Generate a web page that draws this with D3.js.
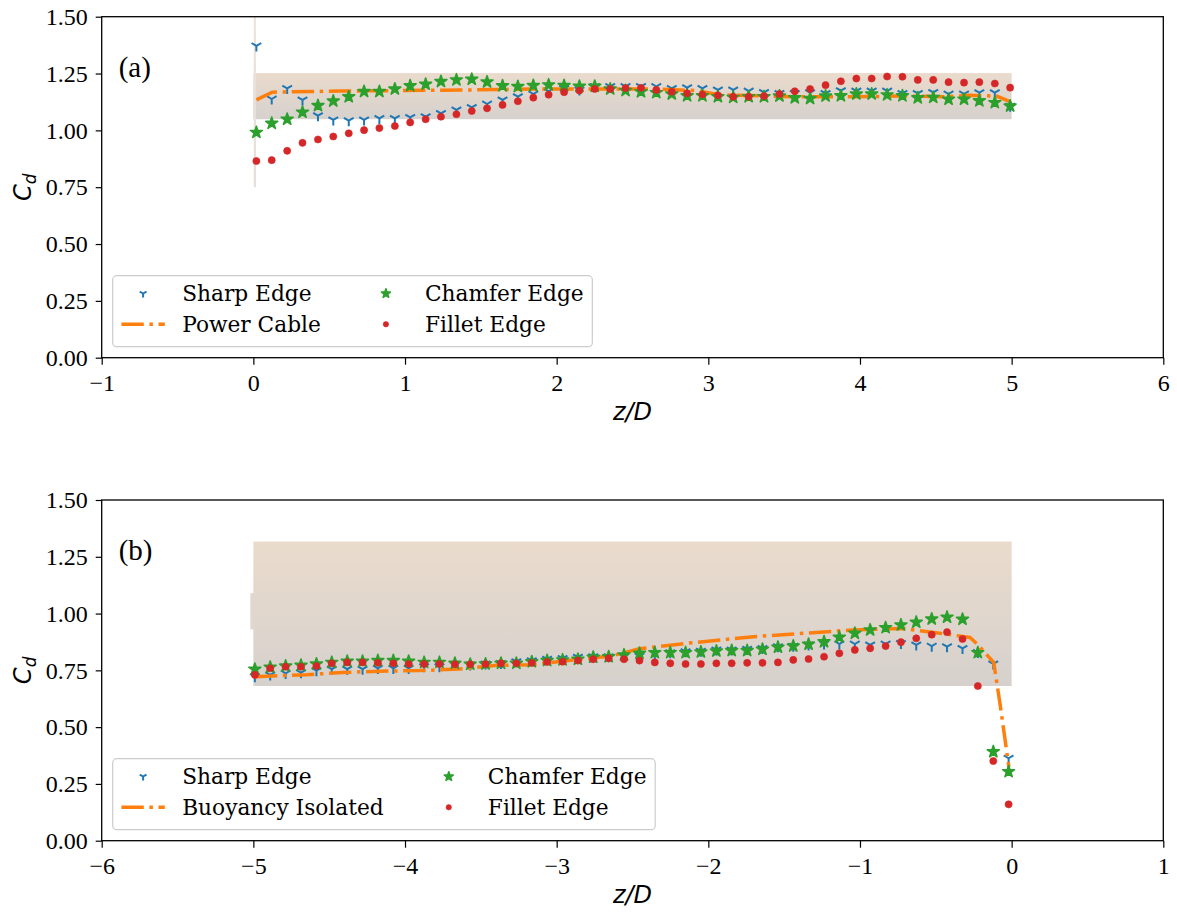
<!DOCTYPE html>
<html>
<head>
<meta charset="utf-8">
<script src="https://cdn.jsdelivr.net/npm/d3@7"></script>
<style>
body { margin: 0; background: #fff; }
</style>
</head>
<body>
<div id="chart"></div>
<script>
// ---- values ----
// panel (a): z/D positions of the sampled sections
var zTop = [0.020, 0.121, 0.223, 0.324, 0.426, 0.527, 0.629, 0.730, 0.831, 0.933,
            1.034, 1.136, 1.237, 1.339, 1.440, 1.541, 1.643, 1.744, 1.846, 1.947,
            2.049, 2.150, 2.251, 2.353, 2.454, 2.556, 2.657, 2.759, 2.860, 2.961,
            3.063, 3.164, 3.266, 3.367, 3.469, 3.570, 3.671, 3.773, 3.874, 3.976,
            4.077, 4.179, 4.280, 4.381, 4.483, 4.584, 4.686, 4.787, 4.889, 4.990];
var sharpTop = [1.372, 1.138, 1.185, 1.134, 1.065, 1.046, 1.043, 1.046, 1.053, 1.053,
                1.057, 1.060, 1.075, 1.090, 1.101, 1.116, 1.134, 1.148, 1.160, 1.172,
                1.185, 1.178, 1.193, 1.193, 1.193, 1.193, 1.193, 1.185, 1.188, 1.185,
                1.178, 1.178, 1.173, 1.167, 1.163, 1.163, 1.166, 1.163, 1.175, 1.173,
                1.173, 1.173, 1.163, 1.163, 1.167, 1.160, 1.160, 1.166, 1.166, 1.107];
var chamferTop = [0.991, 1.031, 1.049, 1.080, 1.109, 1.129, 1.148, 1.171, 1.171, 1.182,
                  1.196, 1.203, 1.215, 1.222, 1.225, 1.213, 1.196, 1.193, 1.197, 1.200,
                  1.197, 1.194, 1.194, 1.182, 1.175, 1.170, 1.166, 1.160, 1.152, 1.152,
                  1.148, 1.145, 1.148, 1.148, 1.151, 1.143, 1.140, 1.151, 1.152, 1.160,
                  1.160, 1.156, 1.152, 1.143, 1.145, 1.137, 1.137, 1.130, 1.122, 1.107];
var filletTop = [0.865, 0.869, 0.910, 0.945, 0.960, 0.973, 0.987, 1.001, 1.010, 1.019,
                 1.035, 1.049, 1.060, 1.071, 1.085, 1.097, 1.112, 1.128, 1.144, 1.157,
                 1.168, 1.175, 1.182, 1.182, 1.186, 1.187, 1.178, 1.170, 1.163, 1.158,
                 1.154, 1.148, 1.148, 1.151, 1.160, 1.172, 1.182, 1.199, 1.216, 1.228,
                 1.228, 1.237, 1.236, 1.222, 1.222, 1.212, 1.210, 1.212, 1.206, 1.188];
var cableZ  = [0.02, 0.125, 0.571, 1.143, 1.45, 1.89, 2.455, 2.66, 2.92, 3.08, 3.36, 3.56, 3.96, 4.29, 4.57, 4.72, 4.90, 4.99];
var cableCd = [1.134, 1.168, 1.173, 1.176, 1.178, 1.182, 1.182, 1.182, 1.175, 1.156, 1.152, 1.148, 1.148, 1.151, 1.148, 1.154, 1.151, 1.126];
var bandTopZ = [0, 5];
var bandTopCd = [1.049, 1.252];
var spikeTopZ = [0.003, 0.017];
var spikeTopCd = [0.75, 1.5];

// panel (b)
var zBot = [-4.990, -4.889, -4.787, -4.686, -4.584, -4.483, -4.381, -4.280, -4.179, -4.077,
            -3.976, -3.874, -3.773, -3.671, -3.570, -3.469, -3.367, -3.266, -3.164, -3.063,
            -2.961, -2.860, -2.759, -2.657, -2.556, -2.454, -2.353, -2.251, -2.150, -2.049,
            -1.947, -1.846, -1.744, -1.643, -1.541, -1.440, -1.339, -1.237, -1.136, -1.034,
            -0.933, -0.831, -0.730, -0.629, -0.527, -0.426, -0.324, -0.223, -0.121, -0.020];
var sharpBot = [0.722, 0.730, 0.737, 0.740, 0.749, 0.755, 0.755, 0.755, 0.759, 0.759,
                0.759, 0.766, 0.766, 0.774, 0.774, 0.778, 0.781, 0.788, 0.793, 0.799,
                0.803, 0.808, 0.810, 0.810, 0.810, 0.813, 0.825, 0.828, 0.832, 0.835,
                0.840, 0.840, 0.843, 0.847, 0.854, 0.857, 0.862, 0.866, 0.866, 0.866,
                0.862, 0.866, 0.869, 0.862, 0.857, 0.854, 0.847, 0.829, 0.778, 0.363];
var chamferBot = [0.755, 0.764, 0.769, 0.772, 0.778, 0.785, 0.790, 0.790, 0.793, 0.793,
                  0.790, 0.785, 0.785, 0.781, 0.777, 0.778, 0.781, 0.781, 0.788, 0.793,
                  0.796, 0.799, 0.808, 0.810, 0.818, 0.825, 0.828, 0.828, 0.828, 0.831,
                  0.835, 0.837, 0.837, 0.843, 0.852, 0.857, 0.865, 0.876, 0.896, 0.913,
                  0.928, 0.938, 0.950, 0.962, 0.976, 0.984, 0.975, 0.828, 0.392, 0.304];
var filletBot = [0.730, 0.759, 0.766, 0.766, 0.769, 0.781, 0.785, 0.785, 0.783, 0.781,
                 0.778, 0.778, 0.778, 0.777, 0.777, 0.778, 0.781, 0.781, 0.783, 0.787,
                 0.788, 0.793, 0.799, 0.803, 0.799, 0.793, 0.785, 0.781, 0.778, 0.778,
                 0.781, 0.781, 0.783, 0.783, 0.785, 0.796, 0.800, 0.810, 0.825, 0.840,
                 0.847, 0.857, 0.874, 0.891, 0.907, 0.918, 0.888, 0.681, 0.351, 0.160];
var buoyZ  = [-4.99, -4.648, -4.407, -4.165, -3.901, -3.637, -3.407, -3.165, -2.923, -2.627, -2.455,
              -2.143, -1.703, -1.044, -0.715, -0.473, -0.275, -0.222, -0.118, -0.077, -0.018];
var buoyCd = [0.722, 0.731, 0.741, 0.746, 0.749, 0.756, 0.771, 0.775, 0.793, 0.815, 0.845,
              0.869, 0.898, 0.928, 0.934, 0.913, 0.895, 0.862, 0.784, 0.604, 0.324];
var bandBotZ = [-5, 0];
var bandBotCd = [0.681, 1.317];
var sliverBotZ = [-5.02, -4.995];
var sliverBotCd = [0.93, 1.09];

// ticks
var yTicks = [0, 0.25, 0.5, 0.75, 1.0, 1.25, 1.5];
var xTicksTop = [-1, 0, 1, 2, 3, 4, 5, 6];
var xTicksBot = [-6, -5, -4, -3, -2, -1, 0, 1];

var colors = { sharp: "#1f77b4", line: "#ff7f0e", chamfer: "#2ca02c", fillet: "#d62728" };

function init(){
    var W = 1177, H = 914;
    var left = 101.7, right = 1163.3;
    var legendFs = 21.7;

    var svg = d3.select("#chart").append("svg")
        .attr("width", W).attr("height", H);

    var defs = svg.append("defs");
    var grad = defs.append("linearGradient").attr("id", "band")
        .attr("x1", 0).attr("y1", 0).attr("x2", 0).attr("y2", 1);
    grad.append("stop").attr("offset", "0%").attr("stop-color", "#eadbcc");
    grad.append("stop").attr("offset", "100%").attr("stop-color", "#d6d1cd");
    var grad2 = defs.append("linearGradient").attr("id", "spike")
        .attr("x1", 0).attr("y1", 0).attr("x2", 0).attr("y2", 1);
    grad2.append("stop").attr("offset", "0%").attr("stop-color", "#efe2d8");
    grad2.append("stop").attr("offset", "100%").attr("stop-color", "#e3dedb");

    // marker drawers
    var triDown = function(r){
        var a = 0.866 * r, b = 0.5 * r;
        return "M0,0L0," + r + "M0,0L" + (-a) + "," + (-b) + "M0,0L" + a + "," + (-b);
    };
    var star = d3.symbol().type(d3.symbolStar);
    var circ = d3.symbol().type(d3.symbolCircle);

    function drawSharp(g, pts, k){
        g.selectAll(null).data(pts).enter().append("path")
            .attr("transform", function(d){ return "translate(" + d[0] + "," + d[1] + ")"; })
            .attr("d", triDown(5.6 * k))
            .attr("fill", "none")
            .attr("stroke", colors.sharp)
            .attr("stroke-width", 2);
    }
    function drawChamfer(g, pts, k){
        g.selectAll(null).data(pts).enter().append("path")
            .attr("transform", function(d){ return "translate(" + d[0] + "," + d[1] + ")"; })
            .attr("d", star.size(44 * k * k)())
            .attr("fill", colors.chamfer)
            .attr("stroke", colors.chamfer)
            .attr("stroke-width", 1.6)
            .attr("stroke-linejoin", "round");
    }
    function drawFillet(g, pts, k){
        g.selectAll(null).data(pts).enter().append("path")
            .attr("transform", function(d){ return "translate(" + d[0] + "," + d[1] + ")"; })
            .attr("d", circ.size(40 * k * k)())
            .attr("fill", colors.fillet)
            .attr("stroke", colors.fillet)
            .attr("stroke-width", 0.6);
    }

    var drawPanel = function(o){
        var x = d3.scaleLinear().domain(o.xDomain).range([left, right]);
        var y = d3.scaleLinear().domain([0, 1.5]).range([o.bottom, o.top]);
        var g = svg.append("g");

        // shaded band and thin edges
        o.rects.forEach(function(r){
            g.append("rect")
                .attr("x", x(r.z[0]))
                .attr("width", x(r.z[1]) - x(r.z[0]))
                .attr("y", y(r.cd[1]))
                .attr("height", y(r.cd[0]) - y(r.cd[1]))
                .attr("fill", r.fill);
        });

        var pts = function(zs, cs){ return zs.map(function(z, i){ return [x(z), y(cs[i])]; }); };

        drawSharp(g, pts(o.z, o.sharp), 1);

        var line = d3.line()
            .x(function(d){ return x(d[0]); })
            .y(function(d){ return y(d[1]); });
        g.append("path")
            .datum(o.lineZ.map(function(z, i){ return [z, o.lineCd[i]]; }))
            .attr("d", line)
            .attr("fill", "none")
            .attr("stroke", colors.line)
            .attr("stroke-width", 3.5)
            .attr("stroke-dasharray", "22.4,5.6,3.5,5.6");

        drawChamfer(g, pts(o.z, o.chamfer), 1);
        drawFillet(g, pts(o.z, o.fillet), 1);

        // axes
        var xAxis = d3.axisBottom(x).tickValues(o.xTicks).tickFormat(d3.format("d")).tickSize(7).tickPadding(9);
        var yAxis = d3.axisLeft(y).tickValues(yTicks).tickFormat(d3.format(".2f")).tickSize(6).tickPadding(8);
        var gx = g.append("g").attr("transform", `translate(0,${o.bottom})`).call(xAxis);
        var gy = g.append("g").attr("transform", `translate(${left},0)`).call(yAxis);
        [gx, gy].forEach(function(a){
            a.select(".domain").remove();
            a.attr("font-family", "'Liberation Serif', 'Times New Roman', serif").attr("font-size", 24);
            a.selectAll("line").attr("stroke", "#000").attr("stroke-width", 1.2);
            a.selectAll("text").attr("fill", "#000");
        });

        // frame
        g.append("rect")
            .attr("x", left).attr("y", o.top)
            .attr("width", right - left).attr("height", o.bottom - o.top)
            .attr("fill", "none").attr("stroke", "#000").attr("stroke-width", 1.3);

        // panel tag
        g.append("text")
            .attr("x", left + 17).attr("y", o.top + 60)
            .attr("font-family", "'Liberation Serif', 'Times New Roman', serif")
            .attr("font-size", 29)
            .text(o.tag);

        // axis labels
        g.append("text")
            .attr("x", (left + right) / 2).attr("y", o.bottom + 62)
            .attr("text-anchor", "middle")
            .attr("font-family", "'DejaVu Sans', sans-serif")
            .attr("font-style", "italic")
            .attr("font-size", 24)
            .text("z/D");
        var yl = g.append("text")
            .attr("transform", `translate(31,${(o.top + o.bottom) / 2}) rotate(-90)`)
            .attr("text-anchor", "middle")
            .attr("font-family", "'DejaVu Sans', sans-serif")
            .attr("font-style", "italic")
            .attr("font-size", 24);
        yl.append("tspan").text("C");
        yl.append("tspan").attr("font-size", 17).attr("dy", 5).text("d");

        // legend (2 columns, filled column by column)
        var lg = g.append("g");
        var box = lg.append("rect")
            .attr("x", left + 11).attr("y", o.bottom - 11 - 71)
            .attr("height", 71).attr("rx", 4)
            .attr("fill", "#fff").attr("fill-opacity", 0.8)
            .attr("stroke", "#cccccc").attr("stroke-width", 1.2);
        var pad = 8.7, handleLen = 43.4, textPad = 17.4, colSpace = 43.4;
        var row1 = o.bottom - 11 - 71 + 17.8, row2 = row1 + 30.8;
        var entries = [
            [{ label: "Sharp Edge", kind: "sharp" }, { label: o.lineLabel, kind: "line" }],
            [{ label: "Chamfer Edge", kind: "chamfer" }, { label: "Fillet Edge", kind: "fillet" }]
        ];
        var colX = left + 11 + pad;
        entries.forEach(function(col){
            var maxW = 0;
            col.forEach(function(e, r){
                var cy = r === 0 ? row1 : row2;
                var cx = colX + handleLen / 2;
                if (e.kind === "line") {
                    lg.append("line")
                        .attr("x1", colX).attr("x2", colX + handleLen)
                        .attr("y1", cy).attr("y2", cy)
                        .attr("stroke", colors.line).attr("stroke-width", 3.5)
                        .attr("stroke-dasharray", "22.4,5.6,3.5,5.6");
                } else if (e.kind === "sharp") {
                    drawSharp(lg, [[cx, cy]], 0.7);
                } else if (e.kind === "chamfer") {
                    drawChamfer(lg, [[cx, cy]], 0.75);
                } else {
                    drawFillet(lg, [[cx, cy]], 0.75);
                }
                var t = lg.append("text")
                    .attr("x", colX + handleLen + textPad)
                    .attr("y", cy + 0.36 * legendFs)
                    .attr("font-family", "'DejaVu Serif', serif")
                    .attr("font-size", legendFs)
                    .text(e.label);
                maxW = Math.max(maxW, t.node().getComputedTextLength());
            });
            colX = colX + handleLen + textPad + maxW + colSpace;
        });
        box.attr("width", colX - colSpace + pad - (left + 11));
    };

    drawPanel({
        top: 16.7, bottom: 357.7, xDomain: [-1, 6], xTicks: xTicksTop, tag: "(a)",
        z: zTop, sharp: sharpTop, chamfer: chamferTop, fillet: filletTop,
        lineZ: cableZ, lineCd: cableCd, lineLabel: "Power Cable",
        rects: [
            { z: bandTopZ, cd: bandTopCd, fill: "url(#band)" },
            { z: spikeTopZ, cd: spikeTopCd, fill: "url(#spike)" }
        ]
    });
    drawPanel({
        top: 500, bottom: 840.7, xDomain: [-6, 1], xTicks: xTicksBot, tag: "(b)",
        z: zBot, sharp: sharpBot, chamfer: chamferBot, fillet: filletBot,
        lineZ: buoyZ, lineCd: buoyCd, lineLabel: "Buoyancy Isolated",
        rects: [
            { z: bandBotZ, cd: bandBotCd, fill: "url(#band)" },
            { z: sliverBotZ, cd: sliverBotCd, fill: "#e0d7cf" }
        ]
    });
}
window.onload = init;
</script>
</body>
</html>
